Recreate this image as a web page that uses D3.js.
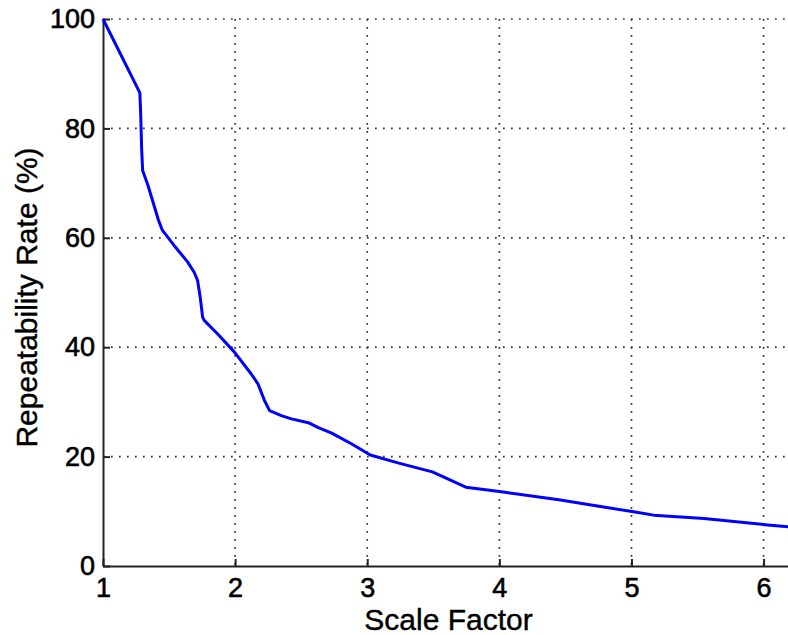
<!DOCTYPE html>
<html>
<head>
<meta charset="utf-8">
<script src="https://cdn.jsdelivr.net/npm/d3@7"></script>
<style>
  html, body { margin: 0; padding: 0; background: #fff; }
  svg { display: block; }
  .tick text { font-family: Helvetica, Arial, "Liberation Sans", sans-serif; font-size: 27px; fill: #000; stroke: #000; stroke-width: 0.6px; }
  .axis-label { font-family: Helvetica, Arial, "Liberation Sans", sans-serif; font-size: 30px; fill: #000; stroke: #000; stroke-width: 0.4px; }
</style>
</head>
<body>
<svg id="chart"></svg>
<script>
  // values
  const scaleFactor = [1, 1.279, 1.285, 1.293, 1.30, 1.34, 1.38, 1.42, 1.449, 1.538,
    1.64, 1.69, 1.716, 1.736, 1.754, 1.766, 1.868, 1.995, 2.122, 2.173,
    2.223, 2.261, 2.35, 2.426, 2.554, 2.63, 2.731, 2.883, 3.023, 3.239,
    3.493, 3.746, 4.0, 4.45, 5.016, 5.168, 5.549, 6.03, 6.22];
  const repeatability = [100, 86.5, 82.8, 76, 72.3, 69.6, 66.4, 63.2, 61.4, 58.6,
    55.6, 53.7, 52.2, 49.1, 45.5, 44.9, 42.4, 39.1, 35.1, 33.3,
    30.2, 28.4, 27.5, 26.9, 26.2, 25.3, 24.3, 22.3, 20.3, 18.8,
    17.2, 14.4, 13.6, 12.1, 9.9, 9.3, 8.7, 7.5, 7.1];
  const xTicks = [1, 2, 3, 4, 5, 6];
  const yTicks = [0, 20, 40, 60, 80, 100];

  const width = 788;
  const height = 635;
  const margin = { top: 19, right: -2, bottom: 69, left: 103 };
  const innerW = width - margin.left - margin.right;
  const innerH = height - margin.top - margin.bottom;

  const svg = d3.select('#chart').attr('width', width).attr('height', height);
  const g = svg.append('g').attr('transform', 'translate(' + margin.left + ',' + margin.top + ')');

  const x = d3.scaleLinear().domain([1, 6.2]).range([0, innerW]);
  const y = d3.scaleLinear().domain([0, 100]).range([innerH, 0]);

  // dotted grid
  g.append('g')
    .selectAll('line')
    .data(xTicks.filter(function (d) { return d > 1; }))
    .enter()
    .append('line')
    .attr('x1', function (d) { return x(d); })
    .attr('x2', function (d) { return x(d); })
    .attr('y1', 0)
    .attr('y2', innerH)
    .attr('stroke', '#333')
    .attr('stroke-width', 1.7)
    .attr('stroke-dasharray', '1.7 6.3');

  g.append('g')
    .selectAll('line')
    .data(yTicks.filter(function (d) { return d > 0; }))
    .enter()
    .append('line')
    .attr('x1', 0)
    .attr('x2', innerW)
    .attr('y1', function (d) { return y(d); })
    .attr('y2', function (d) { return y(d); })
    .attr('stroke', '#333')
    .attr('stroke-width', 1.7)
    .attr('stroke-dasharray', '1.7 6.3');

  // axes with inward ticks
  const xAxis = g.append('g')
    .attr('transform', 'translate(0,' + innerH + ')')
    .call(d3.axisBottom(x).tickValues(xTicks).tickFormat(d3.format('d')).tickSizeInner(-7).tickSizeOuter(0).tickPadding(12));
  const yAxis = g.append('g')
    .call(d3.axisLeft(y).tickValues(yTicks).tickFormat(d3.format('d')).tickSizeInner(-7).tickSizeOuter(0).tickPadding(8));

  [xAxis, yAxis].forEach(function (ax) {
    ax.select('.domain').attr('stroke', '#222').attr('stroke-width', 2);
    ax.selectAll('.tick line').attr('stroke', '#222').attr('stroke-width', 2);
  });

  // curve
  const line = d3.line()
    .x(function (d, i) { return x(scaleFactor[i]); })
    .y(function (d) { return y(d); });

  g.append('path')
    .datum(repeatability)
    .attr('fill', 'none')
    .attr('stroke', '#0000ff')
    .attr('stroke-width', 3)
    .attr('stroke-linejoin', 'round')
    .attr('d', line);

  // labels
  svg.append('text')
    .attr('class', 'axis-label')
    .attr('x', margin.left + innerW / 2 + 2)
    .attr('y', 630)
    .attr('text-anchor', 'middle')
    .text('Scale Factor');

  svg.append('text')
    .attr('class', 'axis-label')
    .attr('transform', 'translate(37,' + (margin.top + innerH / 2 + 5) + ') rotate(-90)')
    .attr('text-anchor', 'middle')
    .text('Repeatability Rate (%)');
</script>
</body>
</html>
